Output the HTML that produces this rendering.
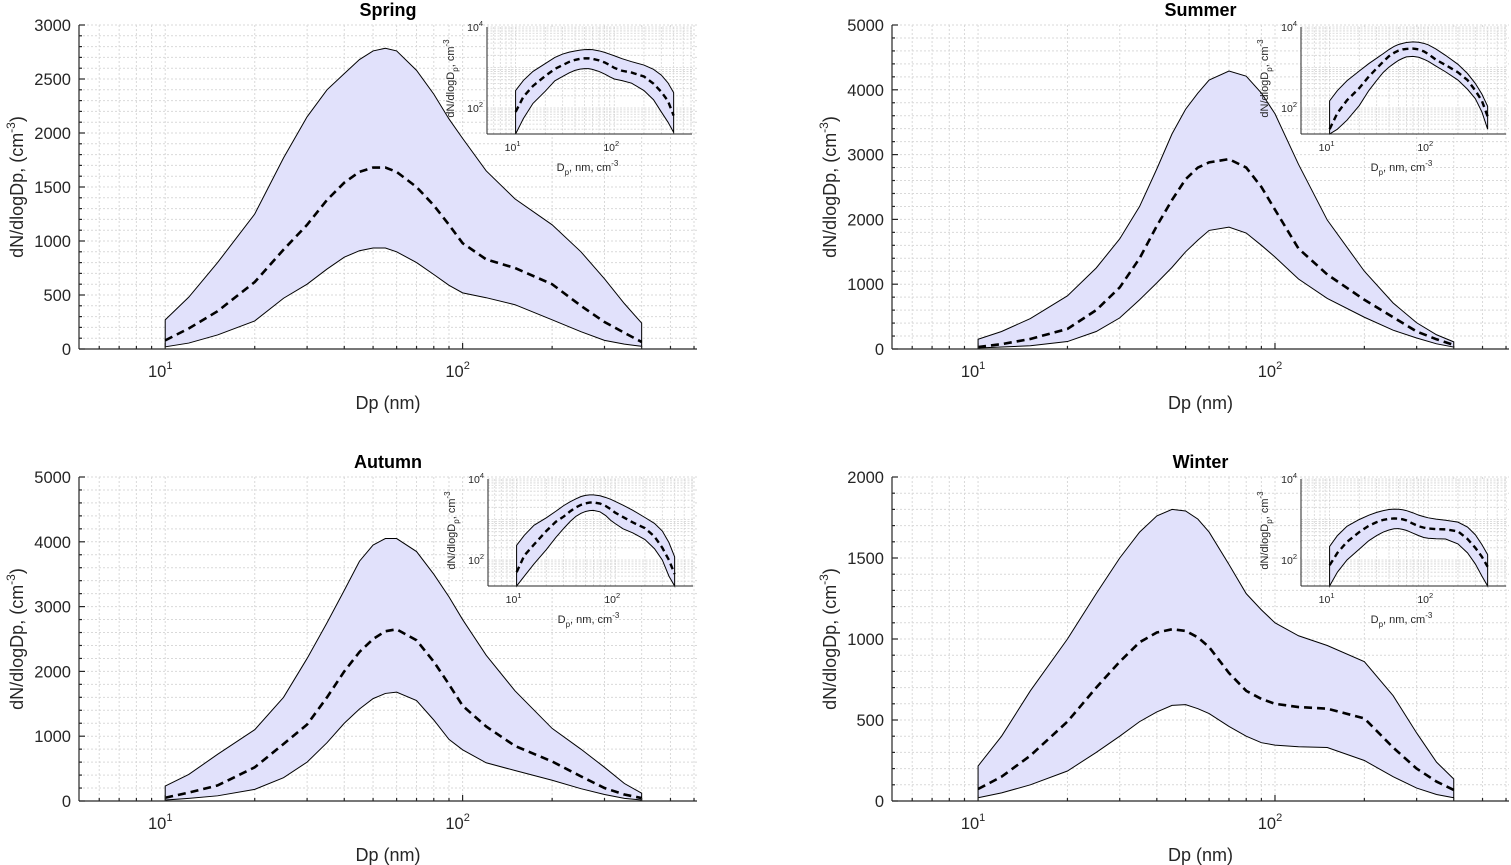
<!DOCTYPE html>
<html><head><meta charset="utf-8">
<style>
html,body{margin:0;padding:0;background:#fff;}
svg{display:block;font-family:"Liberation Sans",Arial,sans-serif;}
</style></head>
<body>
<svg id="fig" width="1511" height="865" viewBox="0 0 1511 865" xmlns="http://www.w3.org/2000/svg"></svg>
<script>
// Shared diameter grid (nm)
const dp = [10,12,15,20,25,30,35,40,45,50,55,60,70,80,90,100,120,150,200,250,300,350,400];
// Spring
const springUpper = [270,480,800,1250,1770,2150,2400,2550,2680,2760,2785,2760,2580,2360,2130,1950,1650,1390,1150,900,650,420,240];
const springMean  = [80,190,350,620,920,1150,1380,1540,1640,1680,1680,1640,1500,1330,1150,980,830,750,600,400,250,150,65];
const springLower = [20,55,130,260,470,600,740,850,910,935,935,900,800,690,590,520,475,410,270,160,80,45,25];
// Summer
const summerUpper = [150,270,470,820,1250,1700,2200,2780,3320,3700,3950,4150,4290,4210,3950,3630,2850,1990,1200,710,405,220,110];
const summerMean  = [30,75,155,310,600,950,1400,1900,2300,2620,2800,2880,2930,2800,2500,2150,1550,1150,760,490,270,150,62];
const summerLower = [15,30,50,115,270,480,760,1020,1260,1500,1680,1830,1880,1790,1600,1420,1080,780,490,290,170,80,30];
// Autumn
const autumnUpper = [230,410,720,1100,1600,2200,2750,3250,3700,3950,4050,4050,3850,3500,3150,2800,2250,1700,1120,800,520,270,120];
const autumnMean  = [50,130,240,520,880,1180,1600,2000,2300,2500,2620,2650,2480,2150,1800,1470,1150,850,610,380,200,100,45];
const autumnLower = [15,40,80,180,360,600,900,1200,1420,1580,1660,1680,1550,1250,950,790,590,470,320,190,100,40,15];
// Winter
const winterUpper = [216,400,680,1000,1280,1500,1660,1760,1800,1790,1740,1660,1460,1280,1180,1100,1020,960,860,650,420,240,136];
const winterMean  = [74,150,280,490,700,860,980,1040,1060,1050,1010,950,790,680,630,600,580,570,510,330,200,120,68];
const winterLower = [20,50,100,185,300,400,490,550,590,595,570,540,460,400,360,345,335,330,250,150,80,40,20];
// Axis tick values
const springYTicks = [0,500,1000,1500,2000,2500,3000];
const summerYTicks = [0,1000,2000,3000,4000,5000];
const autumnYTicks = [0,1000,2000,3000,4000,5000];
const winterYTicks = [0,500,1000,1500,2000];
const xTickExp = [1,2];
const insetYTickExp = [2,4];

const NS="http://www.w3.org/2000/svg";
const svg=document.getElementById('fig');
function el(tag,attrs,parent){const e=document.createElementNS(NS,tag);for(const k in attrs)e.setAttribute(k,attrs[k]);(parent||svg).appendChild(e);return e;}
const LX0=Math.log10(5.13), LX1=Math.log10(614);

function panel(o){
  const g=el('g',{});
  
  
  const L=o.L,R=o.R,T=o.T,B=o.B,ymax=o.ymax;
  const sx=v=>L+(Math.log10(v)-LX0)/(LX1-LX0)*(R-L);
  const sy=v=>B-v/ymax*(B-T);
  const grid=el('g',{stroke:'#d9d9d9','stroke-width':1,'stroke-dasharray':'2,2',fill:'none'},g);
  
  
  for(let d=1;d<=100;d*=10)for(let m=1;m<=9;m++){const v=d*m;if(v<5.13||v>614)continue;const x=sx(v);el('line',{x1:x,x2:x,y1:T,y2:B},grid);}
  const step=o.yticks[1]-o.yticks[0];
  for(let v=0;v<=ymax+1e-6;v+=step/5){const y=sy(v);el('line',{x1:L,x2:R,y1:y,y2:y},grid);}
  let pts=dp.map((d,i)=>sx(d)+','+sy(o.up[i]));
  pts=pts.concat(dp.slice().reverse().map((d,i)=>sx(d)+','+sy(o.lo[dp.length-1-i])));
  const band=el('polygon',{points:pts.join(' '),fill:'#e1e1fb',stroke:'#000','stroke-width':1},g);
  
  
  const mean=el('polyline',{points:dp.map((d,i)=>sx(d)+','+sy(o.mean[i])).join(' '),fill:'none',stroke:'#000','stroke-width':2.6,'stroke-dasharray':'8,5'},g);
  
  
  const ax=el('g',{stroke:'#262626','stroke-width':1.2,fill:'none'},g);
  
  
  el('line',{x1:L,x2:L,y1:T,y2:B},ax);el('line',{x1:L,x2:R,y1:B,y2:B},ax);
  for(let v=0;v<=ymax+1e-6;v+=step/5){const y=sy(v);const major=o.yticks.some(t=>Math.abs(t-v)<1e-6);el('line',{x1:L,x2:L+(major?6:3),y1:y,y2:y},ax);}
  for(let d=1;d<=100;d*=10)for(let m=1;m<=9;m++){const v=d*m;if(v<5.13||v>614)continue;const x=sx(v);el('line',{x1:x,x2:x,y1:B,y2:B-(m==1?6:3)},ax);}
  o.yticks.forEach(v=>{const t=el('text',{x:L-8,y:sy(v)+6,'text-anchor':'end','font-size':16.5,fill:'#262626'},g);t.textContent=v;
    });
  xTickExp.forEach(e=>{const t=el('text',{x:sx(Math.pow(10,e))-5,y:B+28,'text-anchor':'middle','font-size':16.5,fill:'#262626'},g);
    t.innerHTML='10<tspan dy="-8" font-size="11">'+e+'</tspan>';
    });
  const xl=el('text',{x:(L+R)/2,y:B+60,'text-anchor':'middle','font-size':18,fill:'#262626'},g);xl.textContent='Dp (nm)';
  
  const yc=(T+B)/2, yx=L-56;
  const yl=el('text',{x:yx,y:yc,'text-anchor':'middle','font-size':18,fill:'#262626',transform:`rotate(-90 ${yx} ${yc})`},g);
  yl.innerHTML='dN/dlogDp, (cm<tspan dy="-8" font-size="12">-3</tspan><tspan dy="8">)</tspan>';
  
  const ti=el('text',{x:(L+R)/2,y:T-9,'text-anchor':'middle','font-size':18,'font-weight':'bold',fill:'#000'},g);ti.textContent=o.title;
  
  const I=o.inset; const iL=I[0],iR=I[1],iT=I[2],iB=I[3];
  const ig=el('g',{},g);
  
  
  const LY0=Math.log10(22.8), LY1=4;
  const ix=v=>iL+(Math.log10(v)-LX0)/(LX1-LX0)*(iR-iL);
  const iy=v=>iB-(Math.log10(Math.max(v,22.8))-LY0)/(LY1-LY0)*(iB-iT);
  el('rect',{x:iL,y:iT,width:iR-iL,height:iB-iT,fill:'#fff'},ig);
  const ig2=el('g',{stroke:'#d4d4d4','stroke-width':0.8,'stroke-dasharray':'2,1.5',fill:'none'},ig);
  for(let d=1;d<=100;d*=10)for(let m=1;m<=9;m++){const v=d*m;if(v<5.13||v>614)continue;const x=ix(v);el('line',{x1:x,x2:x,y1:iT,y2:iB},ig2);}
  for(let d=10;d<=1000;d*=10)for(let m=1;m<=9;m++){const v=d*m;if(v<22.8)continue;const y=iy(v);el('line',{x1:iL,x2:iR,y1:y,y2:y},ig2);}
  el('line',{x1:iL,x2:iR,y1:iT,y2:iT},ig2);
  let ip=dp.map((d,i)=>ix(d)+','+iy(o.up[i]));
  ip=ip.concat(dp.slice().reverse().map((d,i)=>ix(d)+','+iy(o.lo[dp.length-1-i])));
  const ib=el('polygon',{points:ip.join(' '),fill:'#e1e1fb',stroke:'#000','stroke-width':1},ig);
  
  const im=el('polyline',{points:dp.map((d,i)=>ix(d)+','+iy(o.mean[i])).join(' '),fill:'none',stroke:'#000','stroke-width':2.4,'stroke-dasharray':'6,4'},ig);
  
  const iax=el('g',{stroke:'#262626','stroke-width':1,fill:'none'},ig);
  el('line',{x1:iL,x2:iL,y1:iT,y2:iB},iax);el('line',{x1:iL,x2:iR,y1:iB,y2:iB},iax);
  insetYTickExp.forEach(e=>{const t=el('text',{x:iL-4,y:iy(Math.pow(10,e))+4,'text-anchor':'end','font-size':10.5,fill:'#262626'},ig);
    t.innerHTML='10<tspan dy="-5" font-size="7.5">'+e+'</tspan>';
    });
  xTickExp.forEach(e=>{const t=el('text',{x:ix(Math.pow(10,e))-3,y:iB+17,'text-anchor':'middle','font-size':10.5,fill:'#262626'},ig);
    t.innerHTML='10<tspan dy="-5" font-size="7.5">'+e+'</tspan>';
    });
  const ixl=el('text',{x:(iL+iR)/2-2,y:iB+37,'text-anchor':'middle','font-size':11,fill:'#262626'},ig);
  ixl.innerHTML='D<tspan dy="4" font-size="8">p</tspan><tspan dy="-4">, nm, cm</tspan><tspan dy="-5" font-size="8">-3</tspan>';
  
  const icy=(iT+iB)/2-2, icx=iL-33;
  const iyl=el('text',{x:icx,y:icy,'text-anchor':'middle','font-size':11,fill:'#262626',transform:`rotate(-90 ${icx} ${icy})`},ig);
  iyl.innerHTML='dN/dlogD<tspan dy="4" font-size="8">p</tspan><tspan dy="-4">, cm</tspan><tspan dy="-5" font-size="8">-3</tspan>';
  
}
panel({key:'spring',title:'Spring',L:79,R:697,T:25,B:349,ymax:3000,yticks:springYTicks,up:springUpper,mean:springMean,lo:springLower,inset:[487,692,27,134]});
panel({key:'summer',title:'Summer',L:892,R:1509,T:25,B:349,ymax:5000,yticks:summerYTicks,up:summerUpper,mean:summerMean,lo:summerLower,inset:[1301,1506,27,134]});
panel({key:'autumn',title:'Autumn',L:79,R:697,T:477,B:801,ymax:5000,yticks:autumnYTicks,up:autumnUpper,mean:autumnMean,lo:autumnLower,inset:[488,693,479,586]});
panel({key:'winter',title:'Winter',L:892,R:1509,T:477,B:801,ymax:2000,yticks:winterYTicks,up:winterUpper,mean:winterMean,lo:winterLower,inset:[1301,1506,479,586]});
</script>
</body></html>
